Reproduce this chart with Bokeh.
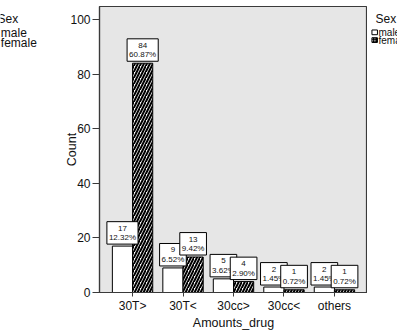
from bokeh.plotting import figure
from bokeh.models import Range1d, FixedTicker, Label
from bokeh.core.properties import value
from bokeh.layouts import row
from bokeh.embed import file_html
from bokeh.resources import INLINE

categories = ["30T>", "30T<", "30cc>", "30cc<", "others"]
male_counts = [17, 9, 5, 2, 2]
female_counts = [84, 13, 4, 1, 1]
male_pct = ["12.32%", "6.52%", "3.62%", "1.45%", "1.45%"]
female_pct = ["60.87%", "9.42%", "2.90%", "0.72%", "0.72%"]
y_ticks = [0, 20, 40, 60, 80, 100]
legend_title = "Sex"
legend_labels = ["male", "female"]

FONT = "Liberation Sans"
H = 332
LW, RW = 50, 30          # widths of the side panels holding the (cropped) legends
MW = 397 - LW - RW

HATCH = dict(hatch_pattern="/", hatch_color="black", hatch_weight=2, hatch_scale=6)

# ---------------- main chart ----------------
p = figure(width=MW, height=H, output_backend="svg", toolbar_location=None,
           x_range=Range1d(-0.655, 4.655), y_range=Range1d(0, 104.8),
           min_border_left=99 - LW, min_border_right=0, min_border_top=6, min_border_bottom=36)
p.background_fill_color = "#e6e6e6"
p.border_fill_color = "white"
p.outline_line_color = "#3a3a3a"
p.outline_line_width = 1.2
p.xgrid.visible = False
p.ygrid.visible = False

xs = list(range(len(categories)))
off = 0.2
w = 0.4
p.vbar(x=[x - off for x in xs], top=male_counts, width=w, bottom=0,
       fill_color="white", line_color="black", line_width=1)
p.vbar(x=[x + off for x in xs], top=female_counts, width=w, bottom=0,
       fill_color="white", line_color="black", line_width=1, **HATCH)

for i in xs:
    for xv, cnt, pct in ((i - off, male_counts[i], male_pct[i]), (i + off, female_counts[i], female_pct[i])):
        p.add_layout(Label(x=xv, y=cnt, text=f"{cnt}\n{pct}", text_align="center",
                           text_baseline="bottom", y_offset=2, text_font=FONT,
                           text_font_size="8px", text_line_height=1.05, text_color="#111111",
                           background_fill_color="white", border_line_color="black",
                           border_line_width=1, padding=2))

p.xaxis.ticker = FixedTicker(ticks=xs)
p.xaxis.major_label_overrides = {i: c for i, c in enumerate(categories)}
p.yaxis.ticker = FixedTicker(ticks=y_ticks)
for ax in (p.xaxis[0], p.yaxis[0]):
    ax.axis_line_color = "#3a3a3a"
    ax.axis_line_width = 1.2
    ax.major_tick_line_color = "#3a3a3a"
    ax.minor_tick_line_color = None
    ax.major_tick_in = 0
    ax.major_label_text_font = FONT
    ax.major_label_text_font_size = "12px"
    ax.major_label_text_color = "#111111"
    ax.axis_label_text_font = FONT
    ax.axis_label_text_font_size = "12.5px"
    ax.axis_label_text_font_style = "normal"
    ax.axis_label_text_color = "#111111"
p.yaxis.major_tick_out = 7
p.yaxis.major_label_standoff = 2
p.xaxis.major_tick_out = 4
p.xaxis.major_label_standoff = 2
p.xaxis.axis_label = "Amounts_drug"
p.xaxis.axis_label_standoff = 0
p.yaxis.axis_label = "Count"
p.yaxis.axis_label_standoff = -12


def side_panel(width):
    f = figure(width=width, height=H, output_backend="svg", toolbar_location=None,
               x_range=Range1d(0, width), y_range=Range1d(H, 0),
               min_border=0, min_border_left=0, min_border_right=0,
               min_border_top=0, min_border_bottom=0)
    f.axis.visible = False
    f.grid.visible = False
    f.outline_line_color = None
    f.background_fill_color = "white"
    f.border_fill_color = "white"
    return f

TXT = dict(text_font=value(FONT), text_baseline="middle", text_color="#111111")

# ---------------- left (cropped) legend ----------------
lf = side_panel(LW)
lf.text(x=[-3], y=[15], text=[legend_title], text_font_size="12px", **TXT)
lf.text(x=[0.3, 0.3], y=[30.5, 42.5], text=legend_labels, text_font_size="12px", **TXT)
lf.rect(x=[-7, -7], y=[30.5, 42.5], width=7, height=7, fill_color="white", line_color="black")

# ---------------- right (cropped) legend ----------------
rf = side_panel(RW)
rf.text(x=[8], y=[15], text=[legend_title], text_font_size="12px", **TXT)
rf.rect(x=[7.2], y=[30], width=5.5, height=5.5, fill_color="white", line_color="black")
rf.rect(x=[7.2], y=[39], width=5.5, height=5.5, fill_color="white", line_color="black",
        hatch_pattern="/", hatch_color="black", hatch_weight=1.2, hatch_scale=2.5)
rf.text(x=[11, 11], y=[30, 39.5], text=legend_labels, text_font_size="10px", **TXT)

layout = row(lf, p, rf, spacing=0)
open("out.html", "w").write(file_html(layout, INLINE))
